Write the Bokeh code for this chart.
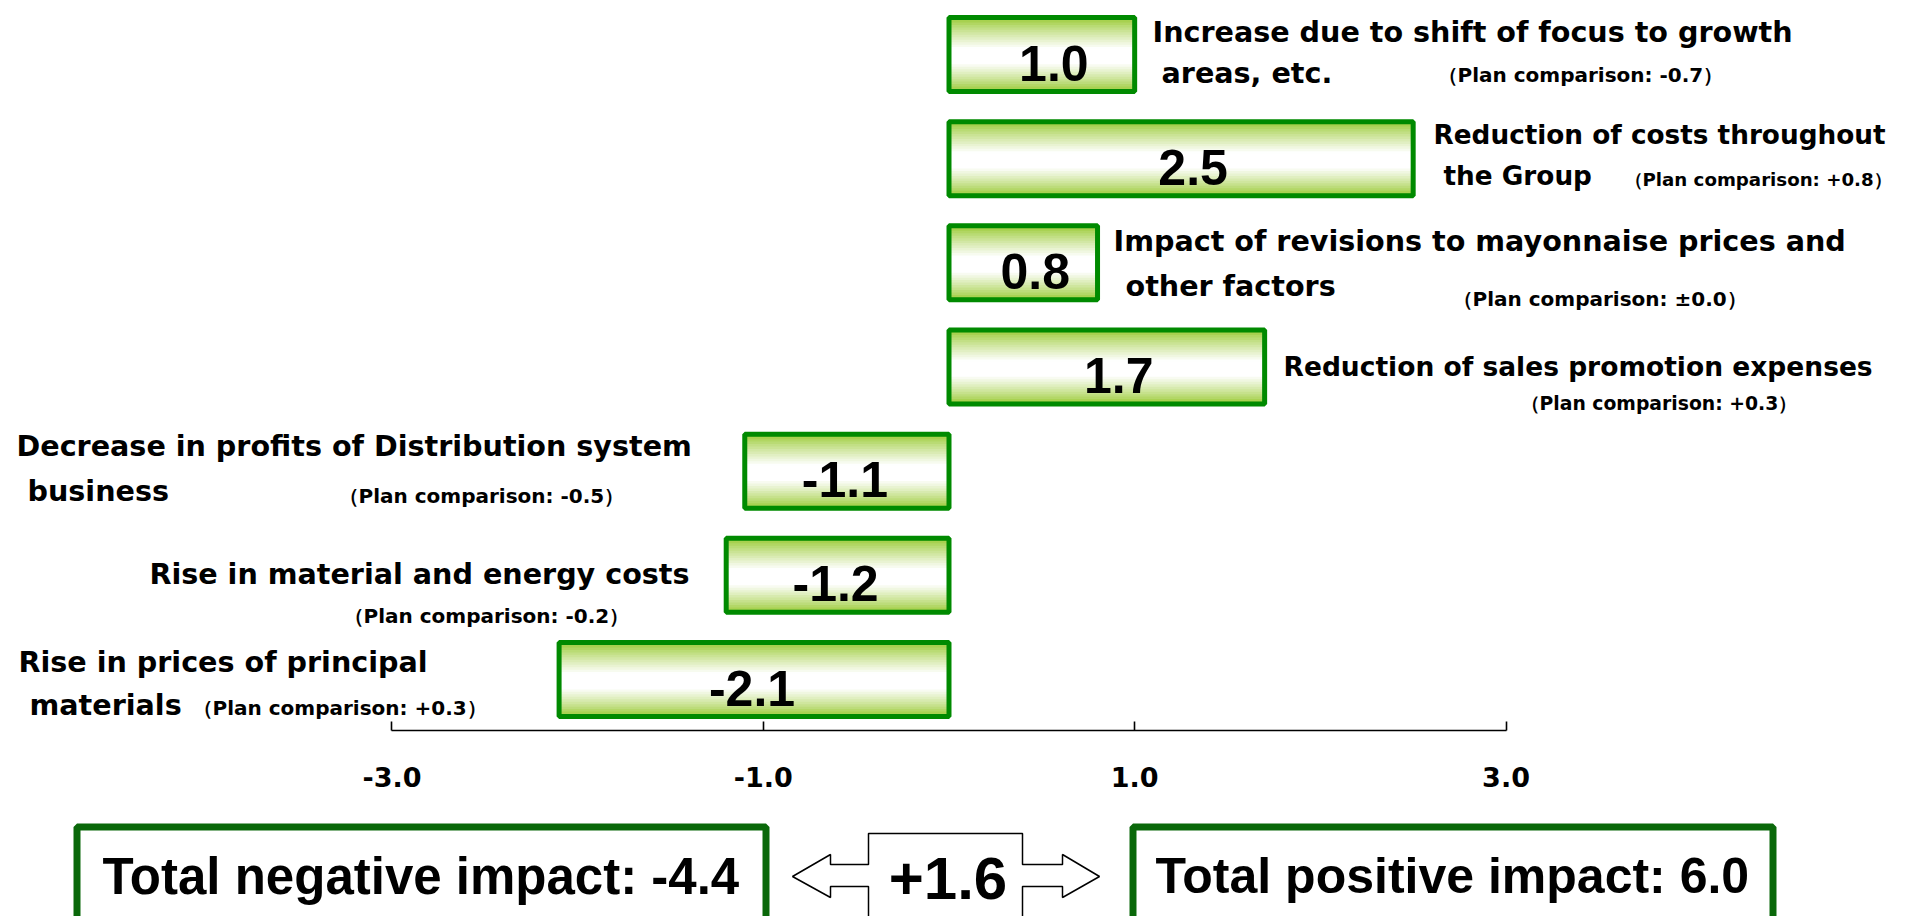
from bokeh.plotting import figure
from bokeh.layouts import column
from bokeh.models import Range1d, FixedTicker, NumeralTickFormatter
from bokeh.embed import file_html
from bokeh.resources import INLINE
from bokeh.core.properties import value as pv

# ---------------- data ----------------
values = [1.0, 2.5, 0.8, 1.7, -1.1, -1.2, -2.1]
value_labels = ["1.0", "2.5", "0.8", "1.7", "-1.1", "-1.2", "-2.1"]
factor_lines = [
    ["Increase due to shift of focus to growth", "areas, etc."],
    ["Reduction of costs throughout", "the Group"],
    ["Impact of revisions to mayonnaise prices and", "other factors"],
    ["Reduction of sales promotion expenses"],
    ["Decrease in profits of Distribution system", "business"],
    ["Rise in material and energy costs"],
    ["Rise in prices of principal", "materials"],
]
plan_values = ["-0.7", "+0.8", "±0.0", "+0.3", "-0.5", "-0.2", "+0.3"]
tick_values = [-3, -1, 1, 3]
tick_labels = ["-3.0", "-1.0", "1.0", "3.0"]
total_negative = "-4.4"
total_positive = "6.0"
net_change = "+1.6"

# ---------------- layout constants ----------------
W, H = 1907, 916
TOP_H = 820
FRAME_H = 730
PX_PER_UNIT = 185.67
ZERO_PX = 948.5
ROW0_PX = 54.0
ROW_PX = 104.17
BAR_H = 0.71

X0 = -ZERO_PX / PX_PER_UNIT
X1 = (W - ZERO_PX) / PX_PER_UNIT
Y_TOP = -ROW0_PX / ROW_PX
Y_BOT = Y_TOP + FRAME_H / ROW_PX

BASE_SHIFT = 0.40   # em; compensates renderer baseline placement


def xd(px):
    return X0 + px / PX_PER_UNIT


def yd(py):
    return Y_TOP + py / ROW_PX


# text placement (pixels: left x, baseline y)
line_pos = [
    [(1152, 43), (1161, 84)],
    [(1433, 145), (1443, 186)],
    [(1113, 252), (1125, 297)],
    [(1283, 377)],
    [(16, 457), (27, 502)],
    [(None, 585)],
    [(18, 673), (29, 716)],
]
line_size = [28.6, 26.3, 28.6, 26.5, 28.6, 28.6, 28.6]
right_aligned_x = 689
plan_pos = [(1437, 82), (1624, 186), (1452, 306), (1520, 411),
            (338, 503), (343, 623), (192, 715)]
plan_size = [20.0, 18.2, 20.0, 18.8, 20.0, 20.0, 20.0]

LABEL_FONT = "DejaVu Sans"
NUM_FONT = "Liberation Sans"

p = figure(width=W, height=TOP_H, x_range=Range1d(X0, X1),
           y_range=Range1d(Y_BOT, Y_TOP), output_backend="svg",
           toolbar_location=None, y_axis_location=None,
           min_border_left=0, min_border_right=0, min_border_top=0,
           min_border_bottom=TOP_H - FRAME_H)
p.outline_line_color = None
p.xgrid.grid_line_color = None
p.ygrid.grid_line_color = None
p.background_fill_color = "white"
p.border_fill_color = "white"

# gradient fill of the bars, drawn as thin horizontal strips
K = 30
green = (150, 200, 45)
white = (255, 255, 255)


def grad(t):
    if t < 0.42:
        w = t / 0.42
    elif t < 0.62:
        w = 1.0
    else:
        w = 1.0 - (t - 0.62) / 0.38
    w = max(0.0, min(1.0, w)) ** 0.85
    c = [int(round(g * (1 - w) + wh * w)) for g, wh in zip(green, white)]
    return "#%02x%02x%02x" % tuple(c)


sl, sr, st, sb, sc = [], [], [], [], []
for i, v in enumerate(values):
    for j in range(K):
        t0 = j / K
        t1 = min(1.0, (j + 1.6) / K)
        sl.append(min(0.0, v))
        sr.append(max(0.0, v))
        st.append(i - BAR_H / 2 + BAR_H * t0)
        sb.append(i - BAR_H / 2 + BAR_H * t1)
        sc.append(grad((j + 0.5) / K))
p.quad(left=sl, right=sr, top=st, bottom=sb, fill_color=sc, line_color=None)

idx = list(range(len(values)))
p.quad(left=[min(0.0, v) for v in values], right=[max(0.0, v) for v in values],
       top=[i - BAR_H / 2 for i in idx], bottom=[i + BAR_H / 2 for i in idx],
       fill_alpha=0, line_color="#008a00", line_width=5)

# value labels inside the bars
VAL_FS = 50
vx = [v / 2 + (12 if v > 0 else -2) / PX_PER_UNIT for v in values]
vy = [i + (28.5 - BASE_SHIFT * VAL_FS) / ROW_PX for i in idx]
p.text(x=vx, y=vy, text=value_labels, text_align="center",
       text_baseline="alphabetic", text_font=pv(NUM_FONT),
       text_font_style="bold", text_font_size="%dpx" % VAL_FS,
       text_color="black")

# factor description lines
lx, ly, lt, lf, rx, ry, rt, rf = [], [], [], [], [], [], [], []
for lines, poss, fs in zip(factor_lines, line_pos, line_size):
    for txt, (x, y) in zip(lines, poss):
        yy = yd(y - BASE_SHIFT * fs)
        if x is None:
            rx.append(xd(right_aligned_x)); ry.append(yy); rt.append(txt)
            rf.append("%.1fpx" % fs)
        else:
            lx.append(xd(x)); ly.append(yy); lt.append(txt)
            lf.append("%.1fpx" % fs)
p.text(x=lx, y=ly, text=lt, text_font_size=lf, text_align="left",
       text_baseline="alphabetic", text_font=pv(LABEL_FONT),
       text_font_style="bold", text_color="black")
p.text(x=rx, y=ry, text=rt, text_font_size=rf, text_align="right",
       text_baseline="alphabetic", text_font=pv(LABEL_FONT),
       text_font_style="bold", text_color="black")

# plan comparison notes
p.text(x=[xd(x) for x, _ in plan_pos],
       y=[yd(y - BASE_SHIFT * fs) for (_, y), fs in zip(plan_pos, plan_size)],
       text=["（Plan comparison: %s）" % s for s in plan_values],
       text_font_size=["%.1fpx" % fs for fs in plan_size],
       text_align="left", text_baseline="alphabetic",
       text_font=pv(LABEL_FONT), text_font_style="bold", text_color="black")

# axis
ax = p.xaxis[0]
ax.ticker = FixedTicker(ticks=tick_values)
ax.formatter = NumeralTickFormatter(format="0.0")
ax.major_label_overrides = {t: l for t, l in zip(tick_values, tick_labels)}
ax.bounds = (min(tick_values), max(tick_values))
ax.major_tick_in = 9
ax.major_tick_out = 0
ax.minor_tick_line_color = None
ax.axis_line_color = "black"
ax.axis_line_width = 1.6
ax.major_tick_line_width = 1.6
ax.major_label_standoff = 36
ax.major_label_text_font = LABEL_FONT
ax.major_label_text_font_style = "bold"
ax.major_label_text_font_size = "27px"
ax.major_label_text_color = "black"

# ---------------- bottom strip with totals ----------------
BH = H - TOP_H
q = figure(width=W, height=BH, x_range=Range1d(0, W), y_range=Range1d(BH, 0),
           output_backend="svg", toolbar_location=None,
           x_axis_location=None, y_axis_location=None, min_border=0)
q.outline_line_color = None
q.grid.visible = False
q.background_fill_color = "white"
q.border_fill_color = "white"

top_local = 823 - TOP_H
q.quad(left=[76.5, 1132.5], right=[765.5, 1772.5],
       top=[top_local + 3.5] * 2, bottom=[BH + 50] * 2,
       fill_color="white", line_color="#0a680a", line_width=7)


def ay(g):
    return g - TOP_H


# double arrow with central block
arrow_x = [792, 830, 830, 868, 868, 1022, 1022, 1062, 1062, 1099,
           1062, 1062, 1022, 1022, 868, 868, 830, 830]
arrow_y = [ay(876), ay(854), ay(864), ay(864), ay(833), ay(833), ay(864),
           ay(864), ay(854), ay(876), ay(897), ay(886), ay(886), BH + 20,
           BH + 20, ay(886), ay(886), ay(897)]
q.patch(arrow_x, arrow_y, fill_color="white", line_color="black",
        line_width=1.5)

TOT_FS = 51
q.text(x=[102, 1155], y=[ay(896 - BASE_SHIFT * TOT_FS)] * 2,
       text=["Total negative impact: " + total_negative,
             "Total positive impact: " + total_positive],
       text_font_size=["51px", "50px"],
       text_align="left", text_baseline="alphabetic", text_font=pv(NUM_FONT),
       text_font_style="bold", text_color="black")
NET_FS = 60
q.text(x=[947.5], y=[ay(902 - BASE_SHIFT * NET_FS)], text=[net_change],
       text_align="center", text_baseline="alphabetic",
       text_font=pv(NUM_FONT), text_font_style="bold",
       text_font_size="%dpx" % NET_FS, text_color="black")

layout = column(p, q, spacing=0)
open("out.html", "w").write(file_html(layout, INLINE))
